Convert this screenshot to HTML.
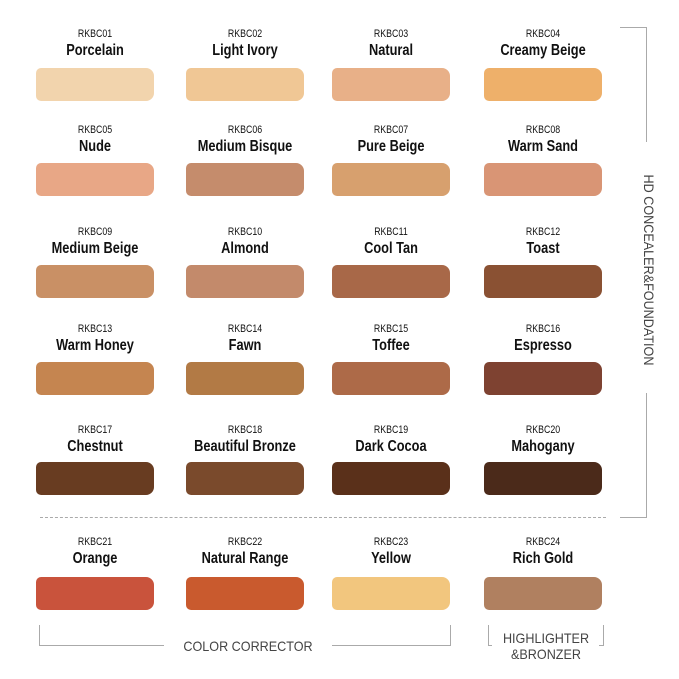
<!DOCTYPE html>
<html><head><meta charset="utf-8"><style>
body{margin:0;width:679px;height:679px;background:#fff;position:relative;overflow:hidden;font-family:"Liberation Sans",sans-serif;color:#111}
.c{position:absolute;width:150px;text-align:center;transform:scaleX(0.8);transform-origin:center}
.code{font-size:11px}
.name{font-size:16px;font-weight:600}
.sw{position:absolute;width:118px;height:33px;border-radius:5px 8px 8px 5px}
.l{position:absolute;background:#aaa}
.t{position:absolute;font-size:13px;color:#444;white-space:nowrap;transform:scaleX(0.9)}
</style></head><body>
<div id="g"></div>
<div class="l" style="left:646px;top:27px;width:1px;height:115px"></div>
<div class="l" style="left:646px;top:393px;width:1px;height:124px"></div>
<div class="l" style="left:620px;top:27px;width:27px;height:1px"></div>
<div class="l" style="left:620px;top:517px;width:27px;height:1px"></div>
<div class="t" style="left:535px;top:262px;width:228px;text-align:center;transform:rotate(90deg) scaleX(0.9);font-size:14px">HD CONCEALER&amp;FOUNDATION</div>
<div style="position:absolute;left:40px;top:517px;width:566px;border-top:1px dashed #aaa"></div>
<div class="l" style="left:39px;top:625px;width:1px;height:21px"></div>
<div class="l" style="left:450px;top:625px;width:1px;height:21px"></div>
<div class="l" style="left:39px;top:645px;width:125px;height:1px"></div>
<div class="l" style="left:332px;top:645px;width:119px;height:1px"></div>
<div class="t" style="left:160px;top:638px;width:176px;text-align:center;font-size:14px">COLOR CORRECTOR</div>
<div class="l" style="left:488px;top:625px;width:1px;height:21px"></div>
<div class="l" style="left:603px;top:625px;width:1px;height:21px"></div>
<div class="l" style="left:488px;top:645px;width:4px;height:1px"></div>
<div class="l" style="left:599px;top:645px;width:4px;height:1px"></div>
<div class="t" style="left:490px;top:630px;width:112px;text-align:center;font-size:14px;line-height:16px">HIGHLIGHTER<br>&amp;BRONZER</div>
<script>
var d=[["01","Porcelain","#f2d4ad"],["02","Light Ivory","#f0c795"],["03","Natural","#e8b088"],["04","Creamy Beige","#eeb06a"],
["05","Nude","#e8a786"],["06","Medium Bisque","#c58c6c"],["07","Pure Beige","#d7a06e"],["08","Warm Sand","#d99575"],
["09","Medium Beige","#c99065"],["10","Almond","#c38a6b"],["11","Cool Tan","#a86848"],["12","Toast","#8a5133"],
["13","Warm Honey","#c58550"],["14","Fawn","#b27a45"],["15","Toffee","#ad6a48"],["16","Espresso","#7e4231"],
["17","Chestnut","#683c21"],["18","Beautiful Bronze","#7a4a2c"],["19","Dark Cocoa","#5a301a"],["20","Mahogany","#4b2a1a"],
["21","Orange","#c9533c"],["22","Natural Range","#c95a2e"],["23","Yellow","#f2c67e"],["24","Rich Gold","#b08060"]];
var cx=[95,245,391,543],cy=[28,124,226,323,424,536],sy=[68,163,265,362,462,577],sx=[36,186,332,484];
var h="";
d.forEach(function(e,i){var r=Math.floor(i/4),c=i%4;
h+='<div class="c code" style="left:'+(cx[c]-75)+'px;top:'+cy[r]+'px">RKBC'+e[0]+'</div>';
h+='<div class="c name" style="left:'+(cx[c]-75)+'px;top:'+(cy[r]+14)+'px">'+e[1]+'</div>';
h+='<div class="sw" style="left:'+sx[c]+'px;top:'+sy[r]+'px;background:'+e[2]+'"></div>';});
document.getElementById("g").innerHTML=h;
</script>
</body></html>
